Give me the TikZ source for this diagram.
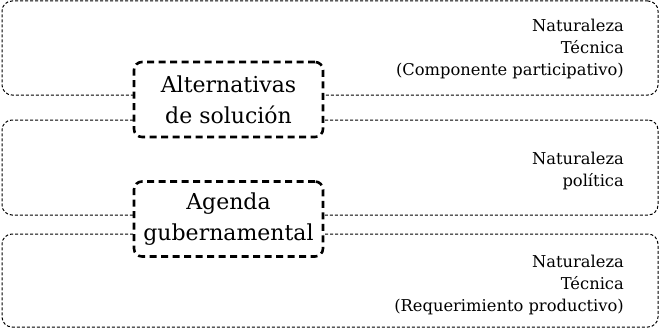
\documentclass[tikz,border=0pt]{standalone}
\usepackage{fontspec}
\setmainfont{DejaVu Serif}
\begin{document}
\begin{tikzpicture}[x=1pt,y=-1pt,
  zone/.style={draw=black, line width=1pt, dash pattern=on 3pt off 2pt, rounded corners=10pt, inner sep=0pt},
  keybox/.style={draw=black, fill=white, line width=2.6pt, dash pattern=on 7pt off 4.5pt, rounded corners=8pt, minimum width=189pt, minimum height=75pt, align=center, inner sep=0pt, font=\fontsize{22}{31}\selectfont},
  note/.style={align=right, inner sep=0pt, anchor=east, font=\fontsize{16.3}{22}\selectfont}]
\useasboundingbox (0,0) rectangle (660,329);
\node[zone, minimum width=656pt, minimum height=94pt] (z1) at (330,48) {};
\node[zone, minimum width=656pt, minimum height=95pt] (z2) at (330,167.5) {};
\node[zone, minimum width=656pt, minimum height=93pt] (z3) at (330,280.5) {};
\node[keybox] (alt) at (228.5,99.5) {Alternativas\\de solución};
\node[keybox] (age) at (228.5,219) {Agenda\\gubernamental};
\node[note] (n1) at (624,49) {Naturaleza\\Técnica\\(Componente participativo)};
\node[note] (n2) at (624,171) {Naturaleza\\política};
\node[note] (n3) at (624,285) {Naturaleza\\Técnica\\(Requerimiento productivo)};
\end{tikzpicture}
\end{document}
